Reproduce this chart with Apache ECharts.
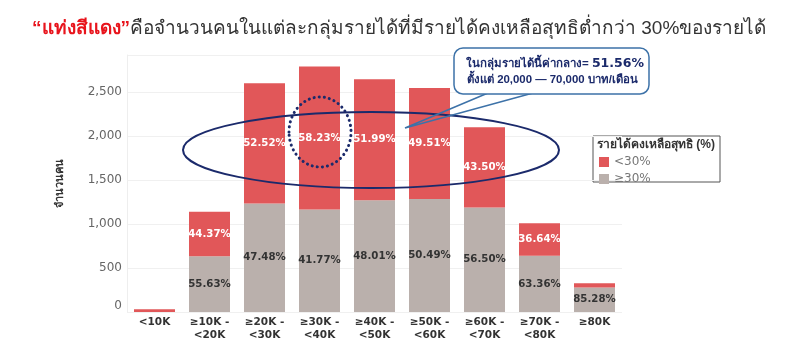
<!DOCTYPE html>
<html>
<head>
<meta charset="utf-8">
<script src="https://cdn.jsdelivr.net/npm/echarts@6/dist/echarts.min.js"></script>
<style>html,body{margin:0;padding:0;background:#fff}#c{width:800px;height:357px}</style>
</head>
<body>
<div id="c"></div>
<script>
const categories = ['<10K', '≥10K -\n<20K', '≥20K -\n<30K', '≥30K -\n<40K', '≥40K -\n<50K', '≥50K -\n<60K', '≥60K -\n<70K', '≥70K -\n<80K', '≥80K'];
const below30 = [30, 506, 1366, 1625, 1375, 1260, 913, 369, 48];
const atLeast30 = [0, 634, 1234, 1165, 1270, 1285, 1187, 639, 278];
const below30Labels = ['', '44.37%', '52.52%', '58.23%', '51.99%', '49.51%', '43.50%', '36.64%', ''];
const atLeast30Labels = ['', '55.63%', '47.48%', '41.77%', '48.01%', '50.49%', '56.50%', '63.36%', '85.28%'];
const yTicks = [0, 500, 1000, 1500, 2000, 2500];

const RED = '#e15759', GRAY = '#bab0ac', NAVY = '#1b2a6b';
const chart = echarts.init(document.getElementById('c'));
chart.setOption({
  animation: false,
  backgroundColor: '#fff',
  title: {
    left: 27, top: 14,
    text: '{r|“แท่งสีแดง”}{n|คือจำนวนคนในแต่ละกลุ่มรายได้ที่มีรายได้คงเหลือสุทธิต่ำกว่า 30%ของรายได้}',
    textStyle: {
      rich: {
        r: { color: '#e8141c', fontSize: 19, fontWeight: 'bold', fontFamily: 'Tahoma, sans-serif' },
        n: { color: '#333', fontSize: 19, fontWeight: 'normal', fontFamily: 'Tahoma, sans-serif' }
      }
    }
  },
  grid: { left: 127, right: 178, top: 55, bottom: 45 },
  legend: {
    orient: 'vertical', left: 594, top: 151,
    data: ['<30%', '≥30%'],
    icon: 'rect', itemWidth: 10, itemHeight: 10, itemGap: 5, itemTextGap: 6,
    textStyle: { color: '#777', fontSize: 12, fontFamily: 'DejaVu Sans' }
  },
  xAxis: {
    type: 'category', data: categories,
    axisLine: { show: false }, axisTick: { show: false },
    axisLabel: { color: '#333', fontWeight: 'bold', fontSize: 10.5, lineHeight: 13, margin: 4, fontFamily: 'DejaVu Sans', interval: 0 }
  },
  yAxis: {
    type: 'value', min: 0, max: 2920, interval: 500,
    name: 'จำนวนคน', nameLocation: 'middle', nameGap: 62, nameRotate: 90,
    nameTextStyle: { color: '#333', fontWeight: 'bold', fontSize: 11 },
    axisLine: { show: true, lineStyle: { color: '#eeeeee' } },
    axisTick: { show: false },
    splitLine: { lineStyle: { color: '#f0f0f0' } },
    axisLabel: {
      color: '#666', fontSize: 12, margin: 5, fontFamily: 'DejaVu Sans',
      formatter: v => v === 0 ? '{z|0}' : (yTicks.includes(v) ? v.toLocaleString('en-US') : ''),
      rich: { z: { color: '#666', fontSize: 12, fontFamily: 'DejaVu Sans', padding: [0, 0, 12, 0] } }
    }
  },
  series: [
    {
      name: '≥30%', type: 'bar', stack: 's', data: atLeast30, barWidth: 41,
      itemStyle: { color: GRAY },
      label: { show: true, position: 'inside', color: '#333', fontWeight: 'bold', fontSize: 10.2, fontFamily: 'DejaVu Sans',
        formatter: p => atLeast30Labels[p.dataIndex] }
    },
    {
      name: '<30%', type: 'bar', stack: 's', data: below30, barWidth: 41,
      itemStyle: { color: RED },
      label: { show: true, position: 'inside', color: '#fff', fontWeight: 'bold', fontSize: 10.2, fontFamily: 'DejaVu Sans',
        formatter: p => below30Labels[p.dataIndex] }
    }
  ],
  graphic: [
    { type: 'ellipse', shape: { cx: 371, cy: 150, rx: 188, ry: 38 }, style: { fill: null, stroke: NAVY, lineWidth: 2 }, z: 10 },
    { type: 'ellipse', shape: { cx: 320, cy: 132, rx: 31, ry: 35 }, style: { fill: null, stroke: NAVY, lineWidth: 3, lineDash: [0.1, 5], lineCap: 'round' }, z: 10 },
    { type: 'polyline', shape: { points: [[488, 93], [405, 128], [533, 93]] }, style: { fill: null, stroke: '#3d72a8', lineWidth: 1.5 }, z: 11 },
    { type: 'rect', shape: { x: 454, y: 48, width: 195, height: 46, r: 9 }, style: { fill: '#fff', stroke: '#3d72a8', lineWidth: 1.5 }, z: 12 },
    { type: 'text', x: 466, y: 64, style: { text: '{a|ในกลุ่มรายได้นี้ค่ากลาง= }{b|51.56%}', verticalAlign: 'middle',
        rich: { a: { fill: NAVY, fontSize: 11.5, fontWeight: 'bold', fontFamily: 'Tahoma, sans-serif' }, b: { fill: NAVY, fontSize: 12.5, fontWeight: 'bold', fontFamily: 'DejaVu Sans' } } }, z: 13 },
    { type: 'text', x: 467, y: 80, style: { text: 'ตั้งแต่ 20,000 — 70,000 บาท/เดือน', verticalAlign: 'middle', fill: NAVY, fontSize: 11.4, fontWeight: 'bold', fontFamily: 'Tahoma, sans-serif' }, z: 13 },
    { type: 'rect', shape: { x: 593, y: 136, width: 127, height: 46 }, style: { fill: '#fff', stroke: '#555', lineWidth: 1 }, z: -1 },
    { type: 'text', x: 597, y: 145, style: { text: 'รายได้คงเหลือสุทธิ (%)', verticalAlign: 'middle', fill: '#333', fontSize: 12, fontWeight: 'bold', fontFamily: 'Tahoma, sans-serif' }, z: 13 }
  ]
});
</script>
</body>
</html>
